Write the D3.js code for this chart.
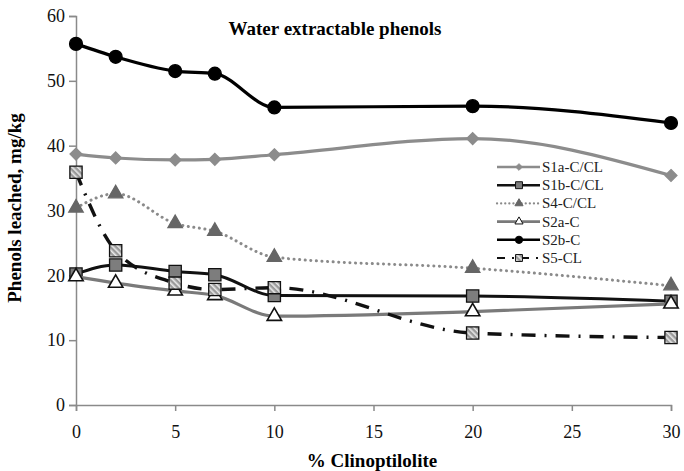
<!DOCTYPE html>
<html>
<head>
<meta charset="utf-8">
<script src="https://cdn.jsdelivr.net/npm/d3@7"></script>
<style>
  body { margin: 0; background: #fff; }
  svg { font-family: "Liberation Serif", "Times New Roman", serif; }
</style>
</head>
<body>
<div id="chart"></div>
<script>
// data
const clino = [0, 2, 5, 7, 10, 20, 30];
const s1a = [38.7, 38.1, 37.8, 37.9, 38.6, 41.1, 35.4];
const s1b = [20.2, 21.6, 20.6, 20.1, 16.9, 16.8, 16.0];
const s4 = [30.4, 32.6, 28.0, 26.8, 22.8, 21.1, 18.4];
const s2a = [19.8, 18.8, 17.6, 16.9, 13.7, 14.4, 15.6];
const s2b = [55.7, 53.7, 51.5, 51.1, 45.9, 46.1, 43.5];
const s5 = [35.9, 23.8, 18.8, 17.8, 18.1, 11.1, 10.4];
const seriesNames = ['S1a-C/CL', 'S1b-C/CL', 'S4-C/CL', 'S2a-C', 'S2b-C', 'S5-CL'];
const xTicks = [0, 5, 10, 15, 20, 25, 30];
const yTicks = [0, 10, 20, 30, 40, 50, 60];

const width = 684, height = 471;
const margin = { left: 76, right: 12, top: 16, bottom: 66 };

const svg = d3.select('#chart').append('svg')
  .attr('width', width)
  .attr('height', height);

const defs = svg.append('defs');
const pat = defs.append('pattern')
  .attr('id', 'hatch')
  .attr('patternUnits', 'userSpaceOnUse')
  .attr('width', 4).attr('height', 4)
  .attr('patternTransform', 'rotate(-45)');
pat.append('rect').attr('width', 4).attr('height', 4).attr('fill', '#9a9a9a');
pat.append('rect').attr('width', 1.6).attr('height', 4).attr('fill', '#e8e8e8');

const x = d3.scaleLinear().domain([0, 30]).range([margin.left, width - margin.right - 1]);
const y = d3.scaleLinear().domain([0, 60]).range([height - margin.bottom, margin.top]);

// axes
const xAxis = svg.append('g')
  .attr('transform', `translate(0,${y(0)})`)
  .call(d3.axisBottom(x).tickValues(xTicks).tickSize(6).tickPadding(14));
const yAxis = svg.append('g')
  .attr('transform', `translate(${x(0)},0)`)
  .call(d3.axisLeft(y).tickValues(yTicks).tickSize(7).tickPadding(4));
[xAxis, yAxis].forEach(ax => {
  ax.select('.domain').attr('stroke', '#8a8a8a').attr('stroke-width', 1.5);
  ax.selectAll('.tick line').attr('stroke', '#8a8a8a').attr('stroke-width', 1.5);
  ax.selectAll('.tick text')
    .attr('fill', '#111')
    .style('font-size', '18px')
    .style('font-family', '"Liberation Serif", serif');
});

const line = d3.line()
  .x(d => x(d[0]))
  .y(d => y(d[1]))
  .curve(d3.curveMonotoneX);

const styles = [
  { vals: s1a, stroke: '#8c8c8c', w: 3.2, dash: null, marker: 'diamond', fill: '#8c8c8c', mstroke: '#8c8c8c', size: 90 },
  { vals: s1b, stroke: '#111', w: 3, dash: null, marker: 'square', fill: '#7d7d7d', mstroke: '#111', size: 150 },
  { vals: s4, stroke: '#8a8a8a', w: 3, dash: '0.1 5.5', cap: 'round', marker: 'triangle', fill: '#666', mstroke: '#666', size: 90 },
  { vals: s2a, stroke: '#7a7a7a', w: 3.2, dash: null, marker: 'triangle', fill: '#fff', mstroke: '#111', size: 90 },
  { vals: s2b, stroke: '#000', w: 3.2, dash: null, marker: 'circle', fill: '#000', mstroke: '#000', size: 130 },
  { vals: s5, stroke: '#111', w: 3.4, dash: '14 9 2 9', marker: 'square', fill: 'url(#hatch)', mstroke: '#111', size: 150 }
];

const symbolType = {
  diamond: d3.symbolDiamond2,
  square: d3.symbolSquare,
  triangle: d3.symbolTriangle,
  circle: d3.symbolCircle
};

styles.forEach(s => {
  const pts = clino.map((c, i) => [c, s.vals[i]]);
  svg.append('path')
    .datum(pts)
    .attr('d', line)
    .attr('fill', 'none')
    .attr('stroke', s.stroke)
    .attr('stroke-width', s.w)
    .attr('stroke-linecap', s.cap || 'butt')
    .attr('stroke-dasharray', s.dash);
  svg.selectAll(null)
    .data(pts)
    .enter()
    .append('path')
    .attr('transform', d => `translate(${x(d[0])},${y(d[1])})`)
    .attr('d', d3.symbol().type(symbolType[s.marker]).size(s.size))
    .attr('fill', s.fill)
    .attr('stroke', s.mstroke)
    .attr('stroke-width', s.marker === 'triangle' && s.fill === '#fff' ? 1.6 : 1.3);
});

// legend
const lg = svg.append('g').attr('transform', 'translate(497,167)');
styles.forEach((s, i) => {
  const row = lg.append('g').attr('transform', `translate(0,${i * 18.2})`);
  row.append('line')
    .attr('x1', 0).attr('x2', 43)
    .attr('stroke', s.stroke)
    .attr('stroke-width', s.dash ? 2.2 : 2.6)
    .attr('stroke-linecap', s.cap || 'butt')
    .attr('stroke-dasharray', s.dash ? (s.cap ? '0.1 4' : '8 7 2 7') : null);
  row.append('path')
    .attr('transform', 'translate(22,0)')
    .attr('d', d3.symbol().type(symbolType[s.marker]).size(s.size * 0.32))
    .attr('fill', s.fill)
    .attr('stroke', s.mstroke)
    .attr('stroke-width', 1);
  row.append('text')
    .attr('x', 45)
    .attr('y', 5)
    .style('font-size', '15px')
    .attr('fill', '#222')
    .text(seriesNames[i]);
});

// titles
svg.append('text')
  .attr('x', 335)
  .attr('y', 35)
  .attr('text-anchor', 'middle')
  .style('font-size', '19px')
  .style('font-weight', 'bold')
  .text('Water extractable phenols');

svg.append('text')
  .attr('x', 372)
  .attr('y', 467)
  .attr('text-anchor', 'middle')
  .style('font-size', '19px')
  .style('font-weight', 'bold')
  .text('% Clinoptilolite');

svg.append('text')
  .attr('transform', 'translate(21,208) rotate(-90)')
  .attr('text-anchor', 'middle')
  .style('font-size', '19px')
  .style('font-weight', 'bold')
  .text('Phenols leached, mg/kg');
</script>
</body>
</html>
